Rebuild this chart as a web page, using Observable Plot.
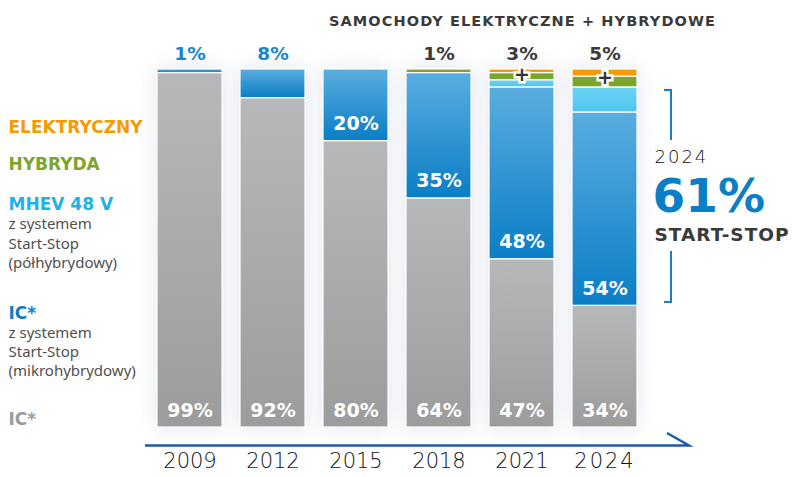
<!DOCTYPE html>
<html>
<head>
<meta charset="utf-8">
<script src="https://cdn.jsdelivr.net/npm/d3@7"></script>
<script src="https://cdn.jsdelivr.net/npm/@observablehq/plot@0.6"></script>
<style>
  html, body { margin: 0; padding: 0; background: #fff; }
  #chart svg { display: block; }
</style>
</head>
<body>
<div id="chart"></div>
<script>
// ---- data ----
const years = ["2009", "2012", "2015", "2018", "2021", "2024"];
const ic = [99, 92, 80, 64, 47, 34];            // IC*
const icStartStop = [1, 8, 20, 35, 48, 54];     // IC* z systemem Start-Stop
const mhev = [0, 0, 0, 0, 2, 7];                // MHEV 48 V
const hybrid = [0, 0, 0, 1, 2, 3];              // HYBRYDA
const electric = [0, 0, 0, 0, 1, 2];            // ELEKTRYCZNY
const categories = ["IC", "ICSS", "MHEV", "HYB", "EL"];
const title = "SAMOCHODY ELEKTRYCZNE + HYBRYDOWE";
const highlightYear = "2024";
const highlightValue = 61;
const highlightLabel = "START-STOP";

// ---- build table ----
const series = { IC: ic, ICSS: icStartStop, MHEV: mhev, HYB: hybrid, EL: electric };
const rows = [];
years.forEach((y, i) => {
  categories.forEach(c => {
    if (series[c][i] > 0) rows.push({ year: y, cat: c, value: series[c][i] });
  });
});
const fills = {
  IC: "url(#gGray)", ICSS: "url(#gBlue)", MHEV: "url(#gLight)", HYB: "#7ba52b", EL: "#f59b00"
};
const perYear = years.map((y, i) => ({
  year: y, ic: ic[i], ss: icStartStop[i], mhev: mhev[i], hyb: hybrid[i], el: electric[i]
}));
const topLabels = perYear.map(d => {
  const he = d.hyb + d.el;
  if (he > 0) return { year: d.year, text: he + "%", color: "#3a3a3a" };
  if (d.ss < 15) return { year: d.year, text: d.ss + "%", color: "#1a86cf" };
  return null;
}).filter(Boolean);

const bold = "DejaVu Sans";
const plain = "Noto Sans";

const anchoredText = (text, dx, dy, anchor, color, size, weight, family) =>
  Plot.text([text], {
    text: d => d, frameAnchor: "top-left", dx, dy, textAnchor: anchor,
    lineAnchor: "middle", fill: color, fontSize: size, fontWeight: weight, fontFamily: family
  });
const legendMark = (text, dy, color, size, weight, family) =>
  anchoredText(text, 8, dy, "start", color, size, weight, family);

const plot = Plot.plot({
  width: 799,
  height: 477,
  margin: 0,
  style: { background: "white", overflow: "visible" },
  x: { type: "band", domain: years, range: [155, 638], paddingInner: 0.222, paddingOuter: 0, axis: null },
  y: { domain: [0, 100], range: [427, 69], axis: null },
  color: { type: "identity" },
  marks: [
    Plot.barY(rows, Plot.stackY({
      x: "year", y: "value", fill: d => fills[d.cat], stroke: "white", strokeWidth: 1.2
    })),
    // bottom IC labels
    Plot.text(perYear, {
      x: "year", y: 0, dy: -17, text: d => d.ic + "%", fill: "white",
      fontSize: 19, fontWeight: "bold", fontFamily: bold
    }),
    // IC start-stop labels inside bars
    Plot.text(perYear.filter(d => d.ss >= 15), {
      x: "year", y: "ic", dy: -17, text: d => d.ss + "%", fill: "white",
      fontSize: 19, fontWeight: "bold", fontFamily: bold
    }),
    // top labels
    Plot.text(topLabels, {
      x: "year", y: 100, dy: -15, text: "text", fill: "color",
      fontSize: 18.5, fontWeight: "bold", fontFamily: bold
    }),
    // plus signs between electric and hybrid
    Plot.text(perYear.filter(d => d.el > 0), {
      x: "year", y: d => 100 - d.el, dy: 1.5, text: () => "+", fill: "#333",
      stroke: "white", strokeWidth: 5, strokeLinejoin: "miter", paintOrder: "stroke",
      fontSize: 19, fontWeight: "bold", fontFamily: bold
    }),
    // year labels
    Plot.text(years, {
      x: d => d, text: d => d, frameAnchor: "bottom", dy: -10, fill: "#111",
      fontSize: 21, fontFamily: bold, fontWeight: 200
    }),
    // title
    anchoredText(title, 522, 21, "middle", "#3a3a3a", 14.5, "bold", bold),
    // legend
    legendMark("ELEKTRYCZNY", 127, "#f59b00", 17, "bold", bold),
    legendMark("HYBRYDA", 164, "#7ba52b", 17, "bold", bold),
    legendMark("MHEV 48 V", 204, "#1cb4e8", 17, "bold", bold),
    legendMark("z systemem", 224, "#505050", 15, "normal", plain),
    legendMark("Start-Stop", 244, "#505050", 15, "normal", plain),
    legendMark("(półhybrydowy)", 263, "#505050", 15, "normal", plain),
    legendMark("IC*", 313, "#0b7fc6", 17, "bold", bold),
    legendMark("z systemem", 333, "#505050", 15, "normal", plain),
    legendMark("Start-Stop", 352, "#505050", 15, "normal", plain),
    legendMark("(mikrohybrydowy)", 371, "#505050", 15, "normal", plain),
    legendMark("IC*", 419, "#9b9b9b", 17, "bold", bold),
    // right annotation
    anchoredText(highlightYear, 654, 157, "start", "#111", 18, 200, bold),
    anchoredText(highlightValue + "%", 652, 196, "start", "#0b7fc6", 47, "bold", bold),
    anchoredText(highlightLabel, 654, 235, "start", "#3a3a3a", 18.5, "bold", bold)
  ]
});

// gradients & decorations
const svg = d3.select(plot);
const defs = svg.insert("defs", ":first-child");
function grad(id, top, bottom) {
  const g = defs.append("linearGradient").attr("id", id)
    .attr("x1", 0).attr("y1", 0).attr("x2", 0).attr("y2", 1);
  g.append("stop").attr("offset", "0%").attr("stop-color", top);
  g.append("stop").attr("offset", "100%").attr("stop-color", bottom);
}
grad("gGray", "#b7b8ba", "#9c9c9c");
grad("gBlue", "#5aaddf", "#0a7ec6");
grad("gLight", "#6dd3f3", "#4fc4ee");

svg.selectAll("g[aria-label='bar']")
  .style("filter", "drop-shadow(0 0 10px rgba(80,100,160,0.16))");

// x-axis arrow line
svg.append("path")
  .attr("d", "M145,445.5H689L667,433")
  .attr("fill", "none").attr("stroke", "#1e5ba6").attr("stroke-width", 2.5);

// bracket
svg.append("path")
  .attr("d", "M664,90H671V140M671,251V302H664")
  .attr("fill", "none").attr("stroke", "#1a7fc6").attr("stroke-width", 2);

// letter spacing tweaks
svg.selectAll("text").each(function () {
  const t = d3.select(this);
  const txt = t.text();
  if (txt === title) t.attr("letter-spacing", 1.1);
  if (txt === highlightLabel) t.attr("letter-spacing", 1);
  if (txt === highlightYear) t.attr("letter-spacing", 2);
});

document.getElementById("chart").appendChild(plot);
</script>
</body>
</html>
